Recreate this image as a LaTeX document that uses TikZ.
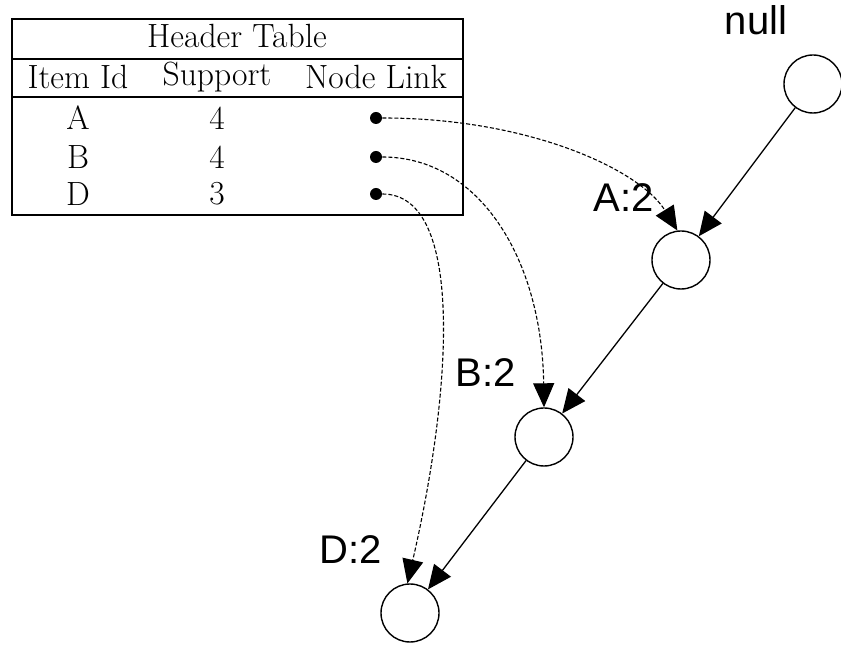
\documentclass[tikz,border=0pt]{standalone}
\usepackage{fontspec}
\newfontfamily\labelfont{Liberation Sans}
\usetikzlibrary{arrows.meta}
\begin{document}
\begin{tikzpicture}[x=0.5pt,y=-0.5pt,
  fpnode/.style={circle,draw,line width=0.7pt,minimum size=29pt,inner sep=0pt},
  fplabel/.style={font=\labelfont\fontsize{20}{24}\selectfont,inner sep=0pt},
  cell/.style={font=\fontsize{16.8}{20}\selectfont,inner sep=0pt},
  tablerule/.style={line width=1.1pt},
  linkdot/.style={circle,fill,minimum size=6pt,inner sep=0pt},
  treeedge/.style={line width=0.65pt,-{Triangle[length=12pt,width=10.5pt]}},
  linkedge/.style={line width=0.55pt,dash pattern=on 2pt off 1pt,-{Triangle[length=12pt,width=10.5pt]}}]
\useasboundingbox (0,0) rectangle (841,646);

% header table frame and rules
\draw[tablerule] (12,19) rectangle (463,215);
\draw[tablerule] (12,59) -- (463,59);
\draw[tablerule] (12,97) -- (463,97);

% header table text
\node[cell] (title) at (237,36) {Header Table};
\node[cell] (hitem) at (78,77) {Item Id};
\node[cell] (hsup)  at (217,77) {Support};
\node[cell] (hlink) at (376,77) {Node Link};
\node[cell] (iA) at (78,118) {A};
\node[cell] (sA) at (217,118) {4};
\node[cell] (iB) at (78,157) {B};
\node[cell] (sB) at (217,157) {4};
\node[cell] (iD) at (78,194) {D};
\node[cell] (sD) at (217,194) {3};
\node[linkdot] (dA) at (376,118) {};
\node[linkdot] (dB) at (376,157) {};
\node[linkdot] (dD) at (376,194) {};

% FP-tree nodes
\node[fpnode] (null) at (813,84) {};
\node[fpnode] (A) at (681,260) {};
\node[fpnode] (B) at (544,437) {};
\node[fpnode] (D) at (410,613) {};

\node[fplabel] (lnull) at (756,20) {null};
\node[fplabel] (lA) at (624,198) {A:2};
\node[fplabel] (lB) at (486,373) {B:2};
\node[fplabel] (lD) at (351,550) {D:2};

% tree edges
\draw[treeedge] (null) -- (A);
\draw[treeedge] (A) -- (B);
\draw[treeedge] (B) -- (D);

% node links from the header table
\draw[linkedge] (dA) .. controls (530,118) and (640,170) .. (A.97);
\draw[linkedge] (dB) .. controls (480,157) and (542,260) .. (B.90);
\draw[linkedge] (dD) .. controls (465,194) and (452,390) .. (D.95);
\end{tikzpicture}
\end{document}
